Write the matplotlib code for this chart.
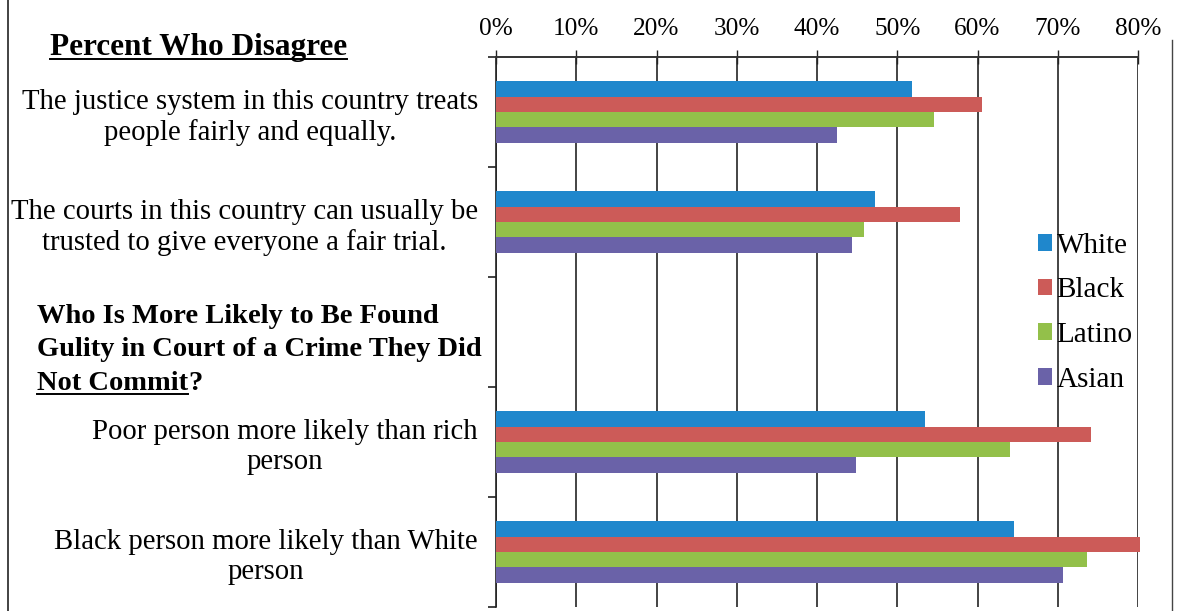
import matplotlib
matplotlib.use("Agg")
import matplotlib.pyplot as plt
import numpy as np
from matplotlib.lines import Line2D

categories = [
    "The justice system in this country treats\npeople fairly and equally.",
    "The courts in this country can usually be\ntrusted to give everyone a fair trial.",
    "",
    "Poor person more likely than rich\nperson",
    "Black person more likely than White\nperson",
]
series_names = ["White", "Black", "Latino", "Asian"]
white = [51.8, 47.2, 0, 53.4, 64.6]
black = [60.6, 57.8, 0, 74.2, 80.2]
latino = [54.6, 45.8, 0, 64.1, 73.6]
asian = [42.5, 44.3, 0, 44.8, 70.6]
xticks = [0, 10, 20, 30, 40, 50, 60, 70, 80]
xtick_labels = ["0%", "10%", "20%", "30%", "40%", "50%", "60%", "70%", "80%"]
heading1 = "Percent Who Disagree"
heading2_lines = ["Who Is More Likely to Be Found", "Gulity in Court of a Crime They Did"]
heading2_ul = "Not Commit"
heading2_tail = "?"

colors = ["#1f87cc", "#cc5b58", "#93c04a", "#6a62a8"]
FONT = ["Liberation Serif", "DejaVu Serif"]
FS_LAB = 20.7
FS_TICK = 18.2
FS_LEG = 21
FS_H1 = 22.5
FS_H2 = 20.5

plt.rcParams["font.family"] = FONT

fig = plt.figure(figsize=(11.8, 6.11), dpi=100)
ax = fig.add_axes([496 / 1180, 1 - 607 / 611, (1138 - 496) / 1180, (607 - 57) / 611])

y = np.arange(len(categories))
h = 0.139
data = [white, black, latino, asian]
for j, (vals, name, c) in enumerate(zip(data, series_names, colors)):
    ax.barh(y + (j - 1.5) * h, vals, height=h, color=c, label=name, zorder=3,
            clip_on=False)

ax.set_xlim(0, 80)
ax.set_ylim(len(categories) - 0.5, -0.5)
ax.xaxis.tick_top()
ax.set_xticks(xticks)
ax.set_xticklabels(xtick_labels, fontsize=FS_TICK)
ax.tick_params(axis="x", direction="inout", length=10, width=1, pad=7, color="#222222")
ax.grid(axis="x", color="#111111", linewidth=1.1, zorder=1)

ax.set_yticks(y)
ax.set_yticklabels(categories, fontsize=FS_LAB, multialignment="center", linespacing=1.2)
ax.set_yticks(np.arange(-0.5, len(categories), 1.0), minor=True)
ax.tick_params(axis="y", which="major", length=0, pad=13)
ax.tick_params(axis="y", which="minor", length=6, width=1.2, color="#222222")

ax.spines["bottom"].set_visible(False)
ax.spines["right"].set_visible(False)
ax.spines["left"].set_color("#222222")
ax.spines["left"].set_linewidth(1.2)
ax.spines["top"].set_color("#333333")
ax.spines["top"].set_linewidth(1.4)
ax.spines["top"].set_linestyle((0, (6, 1, 2, 1)))

leg = ax.legend(loc="upper left", bbox_to_anchor=(1026 / 1180, 1 - 221 / 611),
                bbox_transform=fig.transFigure, frameon=False, fontsize=FS_LEG,
                handlelength=0.5, handleheight=0.5, handletextpad=0.15,
                labelspacing=0.64, borderaxespad=0)

# Headings
t1 = fig.text(50 / 1180, 1 - 48 / 611, heading1, fontsize=FS_H1, fontweight="bold",
              ha="left", va="center")
ys = [316, 350]
for line, yy in zip(heading2_lines, ys):
    fig.text(37 / 1180, 1 - yy / 611, line, fontsize=FS_H2, fontweight="bold",
             ha="left", va="center")
t3 = fig.text(37 / 1180, 1 - 384 / 611, heading2_ul, fontsize=FS_H2, fontweight="bold",
              ha="left", va="center")

# Outer frame lines
fig.add_artist(Line2D([8 / 1180, 8 / 1180], [0, 1], transform=fig.transFigure,
                      color="#222222", linewidth=1.2))
fig.add_artist(Line2D([1172 / 1180, 1172 / 1180], [0, 1 - 40 / 611], transform=fig.transFigure,
                      color="#444444", linewidth=1.0))

fig.canvas.draw()
r = fig.canvas.get_renderer()
inv = fig.transFigure.inverted()
for t in [t1, t3]:
    bb = t.get_window_extent(renderer=r)
    (x0, y0), (x1, y1) = inv.transform([(bb.x0, bb.y0), (bb.x1, bb.y1)])
    yl = y0 + (y1 - y0) * 0.12
    fig.add_artist(Line2D([x0, x1], [yl, yl], transform=fig.transFigure,
                          color="black", linewidth=1.4))
bb = t3.get_window_extent(renderer=r)
xq = inv.transform((bb.x1, bb.y0))[0]
fig.text(xq, 1 - 384 / 611, heading2_tail, fontsize=FS_H2, fontweight="bold",
         ha="left", va="center")

fig.savefig("out.png", dpi=100)
